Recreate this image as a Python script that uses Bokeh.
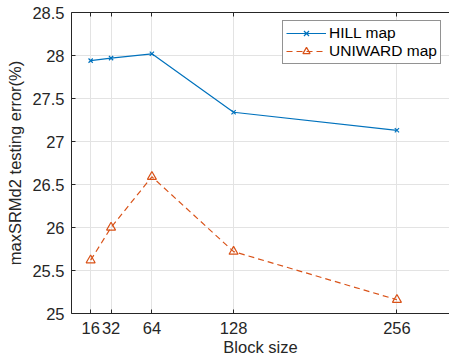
from bokeh.plotting import figure
from bokeh.models import Range1d, FixedTicker, LinearAxis, Legend, LegendItem
from bokeh.embed import file_html
from bokeh.resources import INLINE

block_sizes = [16, 32, 64, 128, 256]
hill_error = [27.94, 27.97, 28.02, 27.34, 27.13]
uniward_error = [25.62, 26.00, 26.59, 25.72, 25.16]
x_ticks = [16, 32, 64, 128, 256]
y_ticks = [25, 25.5, 26, 26.5, 27, 27.5, 28, 28.5]

BLUE = "#0072BD"
ORANGE = "#D95319"
AX = "#262626"
FONT = "Liberation Sans"

p = figure(width=449, height=364, output_backend="svg", toolbar_location=None,
           x_range=Range1d(1, 297.2), y_range=Range1d(25, 28.5),
           min_border_left=71, min_border_right=0, min_border_top=12, min_border_bottom=51)
p.outline_line_color = None
p.background_fill_color = "white"
p.border_fill_color = "white"

for ax in (p.xaxis[0], p.yaxis[0]):
    ax.axis_line_color = AX
    ax.major_tick_line_color = AX
    ax.major_tick_in = 4
    ax.major_tick_out = 0
    ax.minor_tick_line_color = None
    ax.major_label_text_font = FONT
    ax.major_label_text_font_size = "16.5px"
    ax.major_label_text_color = AX
    ax.axis_label_text_font = FONT
    ax.axis_label_text_font_size = "16.5px"
    ax.axis_label_text_font_style = "normal"
    ax.axis_label_text_color = AX

p.xaxis[0].ticker = FixedTicker(ticks=x_ticks)
p.yaxis[0].ticker = FixedTicker(ticks=y_ticks)
p.yaxis[0].major_label_overrides = {25: "25", 26: "26", 27: "27", 28: "28"}
p.xaxis[0].axis_label = "Block size"
p.yaxis[0].axis_label = "maxSRMd2 testing error(%)"
p.xaxis[0].major_label_standoff = 8
p.xaxis[0].axis_label_standoff = 1
p.yaxis[0].major_label_standoff = 7
p.yaxis[0].axis_label_standoff = 5

top = LinearAxis(ticker=FixedTicker(ticks=x_ticks), axis_line_color=AX,
                 major_tick_line_color=AX, major_tick_in=4, major_tick_out=0,
                 minor_tick_line_color=None, major_label_standoff=0,
                 major_label_overrides={t: "" for t in x_ticks})
p.add_layout(top, "above")

p.xgrid.ticker = FixedTicker(ticks=x_ticks)
p.ygrid.ticker = FixedTicker(ticks=y_ticks)
p.grid.grid_line_color = "#e3e3e3"
p.grid.grid_line_width = 1

l1 = p.line(block_sizes, hill_error, line_color=BLUE, line_width=1.2)
m1 = p.scatter(block_sizes, hill_error, marker="x", size=6, line_color=BLUE, line_width=1.2)
l2 = p.line(block_sizes, uniward_error, line_color=ORANGE, line_width=1.2, line_dash="6 4")
m2 = p.scatter(block_sizes, uniward_error, marker="triangle", size=9, line_color=ORANGE,
               fill_color=None, line_width=1.2)

legend = Legend(items=[LegendItem(label="HILL map", renderers=[l1, m1]),
                       LegendItem(label="UNIWARD map", renderers=[l2, m2])],
                location=(211, 249))
legend.label_text_font = FONT
legend.label_text_font_size = "15.5px"
legend.label_text_color = "black"
legend.border_line_color = AX
legend.border_line_width = 1
legend.background_fill_color = "white"
legend.background_fill_alpha = 1
legend.padding = 3
legend.spacing = 0
legend.margin = 0
legend.glyph_width = 40
legend.glyph_height = 18
legend.label_height = 18
legend.label_standoff = 3
p.add_layout(legend, "center")

open("out.html", "w").write(file_html(p, INLINE))
